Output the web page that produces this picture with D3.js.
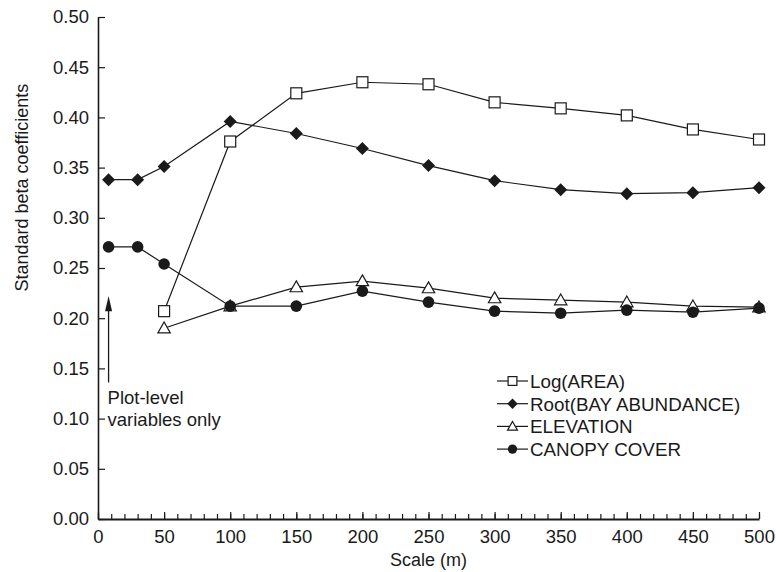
<!DOCTYPE html>
<html>
<head>
<meta charset="utf-8">
<script src="https://cdn.jsdelivr.net/npm/d3@7"></script>
<style>
  body { margin: 0; background: #fff; }
  svg text { font-family: "Liberation Sans", Arial, Helvetica, sans-serif; fill: #1a1a1a; }
</style>
</head>
<body>
<div id="chart"></div>
<script>
// data
const scaleM = [8, 30, 50, 100, 150, 200, 250, 300, 350, 400, 450, 500];
const logArea = [null, null, 0.207, 0.376, 0.424, 0.435, 0.433, 0.415, 0.409, 0.402, 0.388, 0.378];
const rootBay = [0.338, 0.338, 0.351, 0.396, 0.384, 0.369, 0.352, 0.337, 0.328, 0.324, 0.325, 0.330];
const elevation = [null, null, 0.190, 0.212, 0.231, 0.237, 0.230, 0.220, 0.218, 0.216, 0.212, 0.211];
const canopy = [0.271, 0.271, 0.254, 0.212, 0.212, 0.227, 0.216, 0.207, 0.205, 0.208, 0.206, 0.210];
const seriesNames = ["Log(AREA)", "Root(BAY ABUNDANCE)", "ELEVATION", "CANOPY COVER"];
const yTicks = [0, 0.05, 0.10, 0.15, 0.20, 0.25, 0.30, 0.35, 0.40, 0.45, 0.50];
const xTicks = [0, 50, 100, 150, 200, 250, 300, 350, 400, 450, 500];

const W = 776, H = 572;
const margin = { left: 98, right: 17, top: 17, bottom: 53 };

const svg = d3.select("#chart").append("svg")
    .attr("width", W)
    .attr("height", H);

const x = d3.scaleLinear().domain([0, 500]).range([margin.left, W - margin.right]);
const y = d3.scaleLinear().domain([0, 0.5]).range([H - margin.bottom, margin.top]);

const ink = "#1a1a1a";

// y axis, ticks pointing inward
const yAxis = svg.append("g")
    .attr("transform", `translate(${margin.left},0)`)
    .call(d3.axisLeft(y).tickValues(yTicks).tickFormat(d3.format(".2f"))
        .tickSizeInner(-7).tickSizeOuter(0).tickPadding(9));
yAxis.select(".domain").attr("stroke", ink).attr("stroke-width", 1.6);
yAxis.selectAll(".tick line").attr("stroke", ink).attr("stroke-width", 1.2);
yAxis.selectAll("text").style("font-size", "18.5px").attr("fill", ink);

// x axis: minor ticks every 10, major every 50, both inward
const xBase = y(0);
const xMinor = svg.append("g")
    .attr("transform", `translate(0,${xBase})`)
    .call(d3.axisBottom(x).tickValues(d3.range(0, 501, 10)).tickFormat("")
        .tickSizeInner(-5).tickSizeOuter(0));
xMinor.select(".domain").attr("stroke", ink).attr("stroke-width", 2);
xMinor.selectAll(".tick line").attr("stroke", ink).attr("stroke-width", 1.2);

const xAxis = svg.append("g")
    .attr("transform", `translate(0,${xBase})`)
    .call(d3.axisBottom(x).tickValues(xTicks)
        .tickSizeInner(-7).tickSizeOuter(0).tickPadding(11));
xAxis.select(".domain").remove();
xAxis.selectAll(".tick line").attr("stroke", ink).attr("stroke-width", 1.2);
xAxis.selectAll("text").style("font-size", "18.5px").attr("fill", ink);

// axis titles
svg.append("text")
    .attr("x", x(250))
    .attr("y", H - 6)
    .attr("text-anchor", "middle")
    .style("font-size", "18px")
    .text("Scale (m)");

svg.append("text")
    .attr("transform", `translate(28,${y(0.33)}) rotate(-90)`)
    .attr("text-anchor", "middle")
    .style("font-size", "18px")
    .text("Standard beta coefficients");

// series
const series = [
    { name: seriesNames[0], values: logArea, marker: "square" },
    { name: seriesNames[1], values: rootBay, marker: "diamond" },
    { name: seriesNames[2], values: elevation, marker: "triangle" },
    { name: seriesNames[3], values: canopy, marker: "circle" }
];

const line = d3.line()
    .defined(d => d[1] != null)
    .x(d => x(d[0]))
    .y(d => y(d[1]));

series.forEach(s => {
    svg.append("path")
        .datum(scaleM.map((m, i) => [m, s.values[i]]))
        .attr("fill", "none")
        .attr("stroke", ink)
        .attr("stroke-width", 1.2)
        .attr("d", line);
});

// k scales the marker (legend markers are smaller)
function drawMarker(g, type, cx, cy, k) {
    if (type === "square") {
        const h = 5.5 * k;
        g.append("rect").attr("x", cx - h).attr("y", cy - h).attr("width", 2 * h).attr("height", 2 * h)
            .attr("fill", "#fff").attr("stroke", ink).attr("stroke-width", 1.2);
    } else if (type === "diamond") {
        const h = 6.5 * k;
        g.append("path").attr("d", `M${cx},${cy - h}L${cx + h},${cy}L${cx},${cy + h}L${cx - h},${cy}Z`)
            .attr("fill", ink);
    } else if (type === "triangle") {
        const h = 6.2 * k;
        g.append("path").attr("d", `M${cx},${cy - h}L${cx + h},${cy + h * 0.75}L${cx - h},${cy + h * 0.75}Z`)
            .attr("fill", "#fff").attr("stroke", ink).attr("stroke-width", 1.2);
    } else {
        g.append("circle").attr("cx", cx).attr("cy", cy).attr("r", 5.8 * k).attr("fill", ink);
    }
}

const markers = svg.append("g");
series.forEach(s => {
    scaleM.forEach((m, i) => {
        if (s.values[i] != null) drawMarker(markers, s.marker, x(m), y(s.values[i]), 1);
    });
});

// legend
const legend = svg.append("g").attr("transform", "translate(497,381)");
series.forEach((s, i) => {
    const g = legend.append("g").attr("transform", `translate(0,${i * 22.7})`);
    g.append("line").attr("x1", 0).attr("x2", 31).attr("y1", 0).attr("y2", 0)
        .attr("stroke", ink).attr("stroke-width", 1.2);
    drawMarker(g, s.marker, 15.5, 0, 0.8);
    g.append("text").attr("x", 33).attr("y", 6.8)
        .style("font-size", "18.8px")
        .text(s.name);
});

// annotation for plot-level points
svg.append("line")
    .attr("x1", x(8)).attr("x2", x(8))
    .attr("y1", y(0.136)).attr("y2", y(0.212))
    .attr("stroke", ink).attr("stroke-width", 1.3);
svg.append("path")
    .attr("d", `M${x(8)},${y(0.222)}L${x(8) + 3.5},${y(0.207)}L${x(8) - 3.5},${y(0.207)}Z`)
    .attr("fill", ink);

svg.append("text").attr("x", x(8) - 1).attr("y", 404).style("font-size", "18.5px").text("Plot-level");
svg.append("text").attr("x", x(8) - 1).attr("y", 426).style("font-size", "18.5px").text("variables only");
</script>
</body>
</html>
